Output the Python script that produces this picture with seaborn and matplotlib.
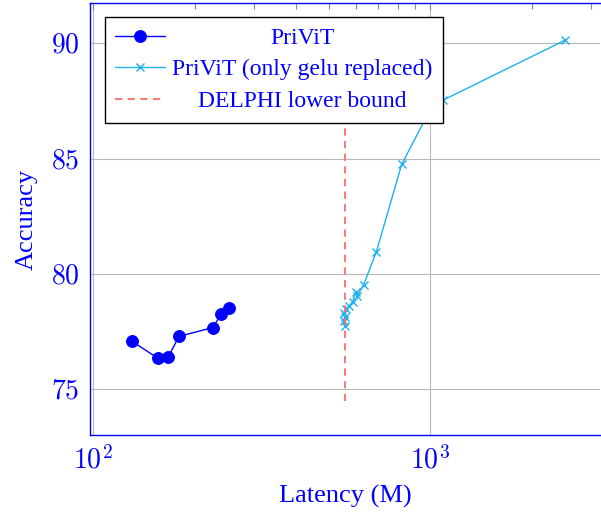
import matplotlib
matplotlib.use('Agg')
import matplotlib.pyplot as plt
import matplotlib.ticker as mticker
import seaborn as sns

# data
privit_latency = [130.7, 156.1, 167.1, 180.0, 226.5, 239.7, 253.1]
privit_acc = [77.07, 76.33, 76.40, 77.29, 77.67, 78.24, 78.52]

gelu_latency = [557, 553, 560, 556, 563, 575, 589, 600, 608, 634, 691, 822, 980, 1087, 2508]
gelu_acc = [77.75, 77.97, 78.14, 78.32, 78.49, 78.62, 78.80, 79.23, 79.06, 79.53,
            80.94, 84.75, 86.9, 87.53, 90.14]

delphi_latency = [557, 557]
delphi_acc = [74.5, 88.0]

x_ticks = [100, 1000]
x_tick_labels = ['$10^{2}$', '$10^{3}$']
y_ticks = [75, 80, 85, 90]
y_tick_labels = ['$75$', '$80$', '$85$', '$90$']

sns.set_style('white')
plt.rcParams['font.family'] = ['Liberation Serif', 'DejaVu Serif']
plt.rcParams['mathtext.fontset'] = 'cm'

BLUE = '#0000ff'
CYAN = '#1fb0f0'
RED = '#ff6b6b'

fig = plt.figure(figsize=(6.01, 5.12), dpi=100)
ax = fig.add_axes([0.149, 0.150, 0.850, 0.844])

sns.lineplot(x=privit_latency, y=privit_acc, ax=ax, sort=False, estimator=None,
             color=BLUE, lw=1, marker='o', markersize=8.5,
             markeredgecolor=BLUE, markerfacecolor=BLUE, label='PriViT')
sns.lineplot(x=gelu_latency, y=gelu_acc, ax=ax, sort=False, estimator=None,
             color=CYAN, lw=1, marker='x', markersize=6, markeredgewidth=1,
             markeredgecolor=CYAN, label='PriViT (only gelu replaced)')
sns.lineplot(x=delphi_latency, y=delphi_acc, ax=ax, sort=False, estimator=None,
             color=RED, lw=1.3, linestyle=(0, (4, 3)), label='DELPHI lower bound')

ax.set_xscale('log')
ax.set_xlim(97.7, 3190)
ax.set_ylim(73.0, 91.75)

ax.set_xticks(x_ticks, labels=x_tick_labels)
ax.xaxis.set_minor_formatter(mticker.NullFormatter())
ax.set_yticks(y_ticks, labels=y_tick_labels)

ax.tick_params(axis='both', which='both', direction='in', colors='#888888',
               labelcolor=BLUE, labelsize=20, top=True, right=False)
ax.tick_params(axis='both', which='major', length=5, width=0.8)
ax.tick_params(axis='x', which='minor', length=4, width=0.8)
ax.tick_params(axis='x', which='major', pad=8)
ax.tick_params(axis='y', which='major', pad=7)

ax.grid(True, which='major', color='#b8b8b8', lw=0.8)

for side in ['left', 'bottom', 'top']:
    ax.spines[side].set_color(BLUE)
    ax.spines[side].set_linewidth(1.0)
ax.spines['right'].set_visible(False)

ax.set_xlabel('Latency (M)', color=BLUE, fontsize=19, labelpad=7)
ax.set_ylabel('Accuracy', color=BLUE, fontsize=19, labelpad=10)

leg = ax.legend(loc='upper left', bbox_to_anchor=(0.030, 0.968), borderaxespad=0,
                fontsize=17, fancybox=False, framealpha=1, edgecolor='black',
                handlelength=2.1, handletextpad=0.3, borderpad=0.45, labelspacing=0.42)
leg.get_frame().set_linewidth(1.0)
for t in leg.get_texts():
    t.set_color(BLUE)

# center the legend labels like pgfplots does
fig.canvas.draw()
renderer = fig.canvas.get_renderer()
texts = leg.get_texts()
widths = [t.get_window_extent(renderer).width * 72 / fig.dpi for t in texts]
wmax = max(widths)
base_sep = leg.handletextpad * leg._fontsize
rows = [box for col in leg._legend_handle_box.get_children() for box in col.get_children()]
for row, w in zip(rows, widths):
    row.sep = base_sep + (wmax - w) / 2

fig.savefig('out.png', dpi=100)
